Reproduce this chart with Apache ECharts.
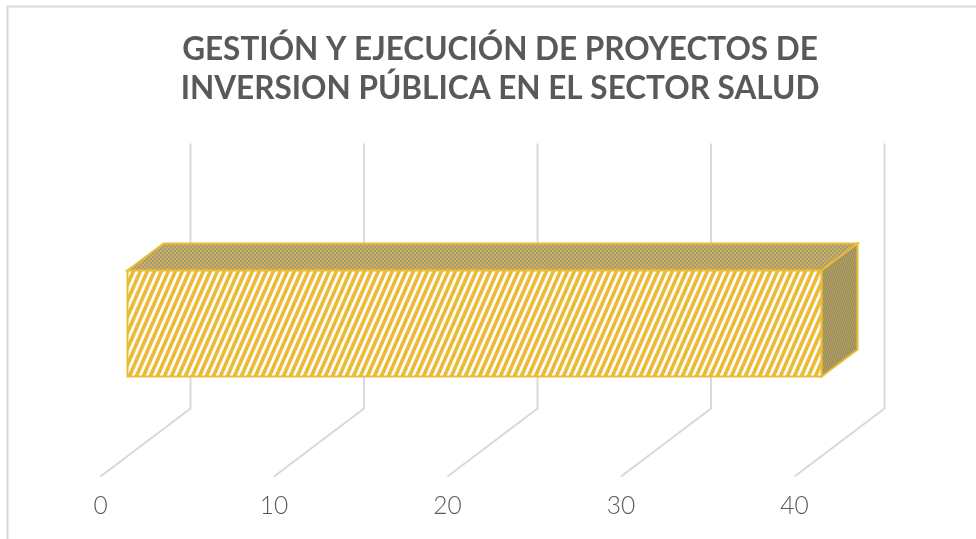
<!DOCTYPE html>
<html><head><meta charset="utf-8">
<style>html,body{margin:0;padding:0;background:#fff}#c{width:976px;height:539px}</style>
<script src="https://cdn.jsdelivr.net/npm/echarts@6/dist/echarts.min.js"></script>
</head><body><div id="c"></div>
<script>
const categories = ['Gestión y ejecución'];
const seriesValues = [40];
const tickValues = [0, 10, 20, 30, 40];
const titleLines = 'GESTIÓN Y EJECUCIÓN DE PROYECTOS DE\nINVERSION PÚBLICA EN EL SECTOR SALUD';

const YELLOW = '#E9BC35';
function stripes() {
  const w = 7, h = 16, c = document.createElement('canvas');
  c.width = w; c.height = h;
  const g = c.getContext('2d');
  g.fillStyle = '#fff'; g.fillRect(0, 0, w, h);
  g.strokeStyle = YELLOW; g.lineWidth = 3.7;
  for (let i = -2; i < 3; i++) {
    g.beginPath();
    g.moveTo(i * w - w, h + h);
    g.lineTo(i * w + 2 * w, -h);
    g.stroke();
  }
  return c;
}
function dither(a, b, w, h) {
  const c = document.createElement('canvas');
  c.width = w * 2; c.height = h * 2;
  const g = c.getContext('2d');
  g.fillStyle = a; g.fillRect(0, 0, w * 2, h * 2);
  g.fillStyle = b; g.fillRect(0, 0, w, h); g.fillRect(w, h, w, h);
  return c;
}
const frontFill = { image: stripes(), repeat: 'repeat' };
const topFill = { image: dither('#CDB058', '#A39B7C', 2, 2), repeat: 'repeat' };
const sideFill = { image: dither('#B89C42', '#94907C', 1, 3), repeat: 'repeat' };

const chart = echarts.init(document.getElementById('c'), null, { renderer: 'canvas' });
const DX = 90, DY = 68;          // oblique depth of the plot box
const BDX = 36, BDY = 27;        // oblique depth of the bar

chart.setOption({
  animation: false,
  backgroundColor: '#fff',
  title: {
    text: titleLines, left: 495, top: 25, textAlign: 'center',
    textStyle: { fontFamily: 'Lato', fontWeight: 'bold', fontSize: 31.5, lineHeight: 39.5, color: '#595959' }
  },
  graphic: [{
    type: 'polyline', silent: true,
    shape: { points: [[7.5, 539], [7.5, 6.5], [976, 6.5]] },
    style: { stroke: '#D9D9D9', lineWidth: 2, fill: null }
  }],
  grid: { left: 100.5, top: 211.5, width: 694, height: 265 },
  xAxis: {
    type: 'value', min: 0, max: 40, interval: 10,
    axisLine: { show: false }, axisTick: { show: false }, splitLine: { show: false },
    axisLabel: { fontFamily: 'Lato', fontWeight: 300, fontSize: 24.5, color: '#595959', margin: 17 }
  },
  yAxis: {
    type: 'category', data: categories, show: false
  },
  series: [{
    type: 'custom', coordinateSystem: 'cartesian2d', silent: true, z: 1,
    data: tickValues.map(v => [v]),
    encode: { x: 0 },
    renderItem(p, api) {
      const x = api.coord([api.value(0), 0])[0];
      const b = p.coordSys.y + p.coordSys.height, t = p.coordSys.y;
      return {
        type: 'polyline',
        shape: { points: [[x, b], [x + DX, b - DY], [x + DX, t - DY]] },
        style: { stroke: '#D9D9D9', lineWidth: 2, fill: null }
      };
    }
  }, {
    type: 'custom', coordinateSystem: 'cartesian2d', silent: true, z: 2,
    data: seriesValues.map((v, i) => [v, i]),
    encode: { x: 0, y: 1 },
    renderItem(p, api) {
      const end = api.coord([api.value(0), api.value(1)]);
      const start = api.coord([0, api.value(1)]);
      const h = api.size([0, 1])[1] * 0.4;
      const ox = (DX - BDX) / 2, oy = (DY - BDY) / 2;
      const x0 = start[0] + ox, x1 = end[0] + ox;
      const y0 = end[1] - oy - h / 2, y1 = y0 + h;
      const edge = { stroke: YELLOW, lineWidth: 2, lineJoin: 'miter' };
      return {
        type: 'group',
        children: [{
          type: 'polygon',
          shape: { points: [[x0, y0], [x0 + BDX, y0 - BDY], [x1 + BDX, y0 - BDY], [x1, y0]] },
          style: Object.assign({ fill: topFill }, edge)
        }, {
          type: 'polygon',
          shape: { points: [[x1, y0], [x1 + BDX, y0 - BDY], [x1 + BDX, y1 - BDY], [x1, y1]] },
          style: Object.assign({ fill: sideFill }, edge)
        }, {
          type: 'rect',
          shape: { x: x0, y: y0, width: x1 - x0, height: h },
          style: Object.assign({ fill: frontFill }, edge)
        }]
      };
    }
  }]
});
</script></body></html>
